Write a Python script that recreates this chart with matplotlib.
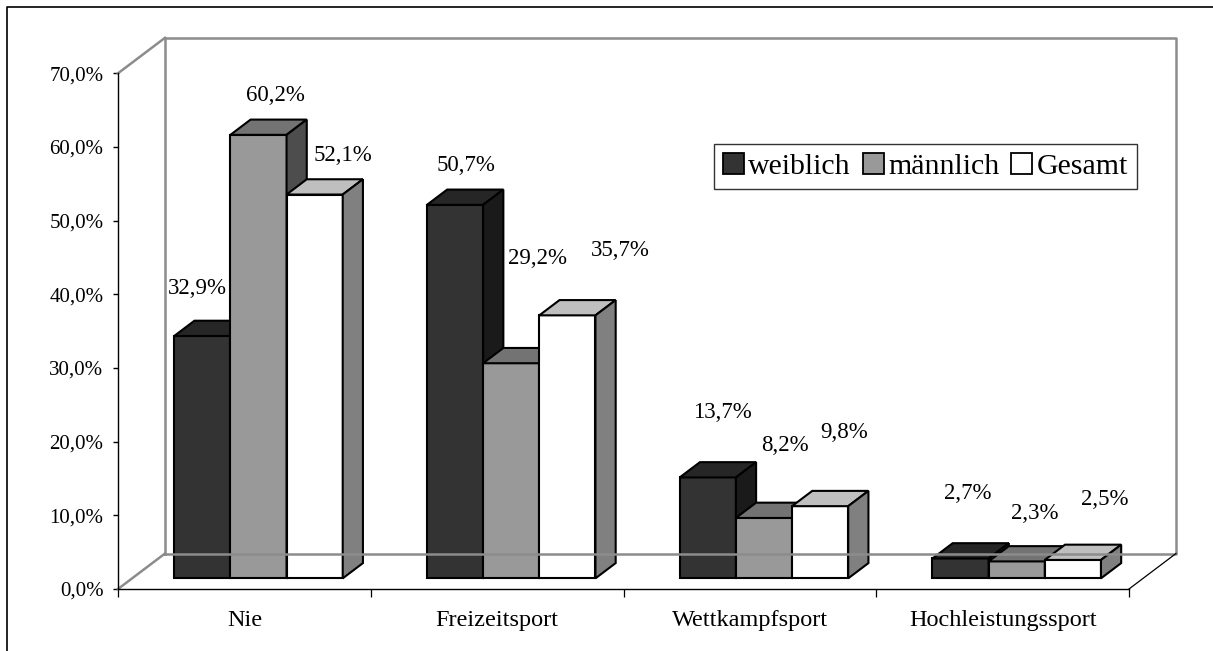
import matplotlib.pyplot as plt
from matplotlib.patches import Polygon, Patch
from matplotlib.lines import Line2D

plt.rcParams['font.family'] = ['Liberation Serif', 'DejaVu Serif']

# ---- DATA ----
categories = ["Nie", "Freizeitsport", "Wettkampfsport", "Hochleistungssport"]
series = ["weiblich", "männlich", "Gesamt"]
weiblich = [32.9, 50.7, 13.7, 2.7]
maennlich = [60.2, 29.2, 8.2, 2.3]
gesamt = [52.1, 35.7, 9.8, 2.5]
values = [weiblich, maennlich, gesamt]
yticks = [0, 10, 20, 30, 40, 50, 60, 70]

# ---- STYLE ----
# (front, top, side) shades per series
shades = [("#333333", "#262626", "#1a1a1a"),
          ("#999999", "#737373", "#4d4d4d"),
          ("#ffffff", "#bfbfbf", "#808080")]
wall_col = "#8c8c8c"

# label offsets in pixels from front-top centre of each bar (Excel placed them loosely)
lab_dx = [[-4.5, 10.5, 15, 7], [16.5, 26, 20.5, 18.5], [28, 53, 23.5, 31.5]]
lab_dy = [[47.6, 39.5, 65, 65], [39.5, 105, 72.6, 48], [39, 65, 74, 60]]

W, H = 1213, 651
fig = plt.figure(figsize=(W / 100, H / 100), dpi=100)
# front plane of the 3D box
x0, x1, yb, yt = 118, 1129, 589, 73.3
ax = fig.add_axes([x0 / W, (H - yb) / H, (x1 - x0) / W, (yb - yt) / H])
ax.set_xlim(0, 4)
ax.set_ylim(0, 70)

# oblique depth offsets in data units
DX = 47 / ((x1 - x0) / 4)
DY = 35.5 / ((yb - yt) / 70)
d0, d1 = 0.3, 0.73
bw = 1 / 4.5  # gap width 150%

# walls / floor
def wline(xs, ys, **kw):
    ax.add_line(Line2D(xs, ys, clip_on=False, **kw))

wline([DX, DX, 4 + DX, 4 + DX, DX], [DY, 70 + DY, 70 + DY, DY, DY], color=wall_col, lw=1.8)
wline([0, DX], [70, 70 + DY], color=wall_col, lw=1.8)
wline([0, DX], [0, DY], color=wall_col, lw=1.8)
wline([4, 4 + DX], [0, DY], color="black", lw=0.9)

# bars
for i in range(len(categories)):
    for j in range(len(series)):
        v = values[j][i]
        left = i + 0.75 * bw + j * bw
        right = left + bw
        fx, fy = d0 * DX, d0 * DY
        bx, by = d1 * DX, d1 * DY
        front, top, side = shades[j]
        kw = dict(closed=True, edgecolor="black", lw=1.5, joinstyle="miter", clip_on=False)
        ax.add_patch(Polygon([(left + fx, fy), (right + fx, fy), (right + fx, v + fy), (left + fx, v + fy)],
                             facecolor=front, **kw))
        ax.add_patch(Polygon([(left + fx, v + fy), (right + fx, v + fy), (right + bx, v + by), (left + bx, v + by)],
                             facecolor=top, **kw))
        ax.add_patch(Polygon([(right + fx, fy), (right + bx, by), (right + bx, v + by), (right + fx, v + fy)],
                             facecolor=side, **kw))

# data labels
for i in range(len(categories)):
    for j in range(len(series)):
        v = values[j][i]
        xc = i + 0.75 * bw + (j + 0.5) * bw + d0 * DX
        ax.annotate(f"{v:.1f}%".replace(".", ","), xy=(xc, v + d0 * DY),
                    xytext=(lab_dx[j][i], lab_dy[j][i]), textcoords="offset pixels",
                    ha="center", va="center", fontsize=16.5, annotation_clip=False)

# axes
for s in ["top", "right"]:
    ax.spines[s].set_visible(False)
for s in ["left", "bottom"]:
    ax.spines[s].set_linewidth(1.0)
ax.patch.set_visible(False)
ax.set_yticks(yticks)
ax.set_yticklabels([f"{t:.1f}%".replace(".", ",") for t in yticks], fontsize=15)
ax.tick_params(axis="y", direction="out", length=3.5, width=1.0, pad=7)
ax.set_xticks([0, 1, 2, 3, 4])
ax.set_xticklabels([""] * 5)
ax.tick_params(axis="x", which="major", direction="out", length=6, width=0.9)
ax.set_xticks([0.5, 1.5, 2.5, 3.5], minor=True)
ax.set_xticklabels(categories, minor=True, fontsize=17.5)
ax.tick_params(axis="x", which="minor", length=0, pad=15)

# legend
handles = [Patch(facecolor=shades[k][0], edgecolor="black", lw=1.3, label=series[k]) for k in range(3)]
leg = fig.legend(handles=handles, loc="upper right", bbox_to_anchor=(1137 / W, 1 - 144 / H),
                 ncol=3, fontsize=21.5, frameon=True, fancybox=False, borderaxespad=0,
                 handlelength=0.7, handleheight=0.7, handletextpad=0.15, columnspacing=0.4,
                 borderpad=0.3)
leg.get_frame().set_edgecolor("black")
leg.get_frame().set_linewidth(1.0)

# outer chart border (left and top visible)
fig.add_artist(Line2D([6.5 / W, 6.5 / W, 1.0], [0, 1 - 6.5 / H, 1 - 6.5 / H],
                      transform=fig.transFigure, color="black", lw=1.2))

fig.savefig("out.png", dpi=100)
